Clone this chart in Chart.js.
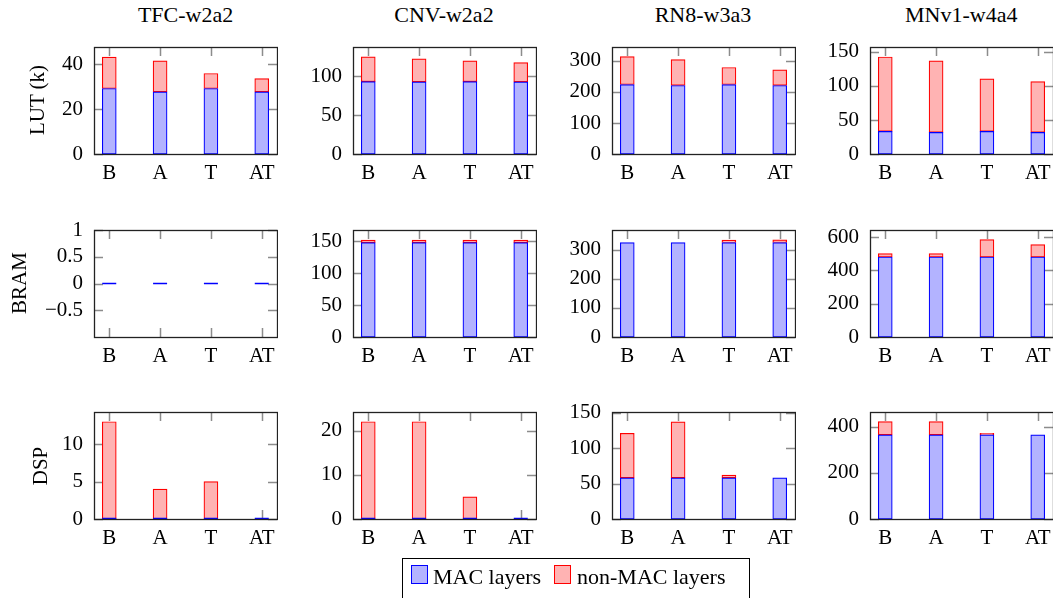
<!DOCTYPE html>
<html>
<head>
<meta charset="utf-8">
<script src="https://cdn.jsdelivr.net/npm/chart.js@4.4.0/dist/chart.umd.min.js"></script>
<style>
  body { margin: 0; background: #fff; width: 1053px; height: 598px; overflow: hidden; position: relative; font-family: "Liberation Serif", serif; color: #000; }
  canvas { position: absolute; }
  .title { position: absolute; font-size: 22px; line-height: 22px; white-space: nowrap; transform: translateX(-50%); }
  .rowlab { position: absolute; font-size: 21px; line-height: 21px; white-space: nowrap; transform: translate(-50%, -50%) rotate(-90deg); }
  .legend { position: absolute; left: 402px; top: 558px; width: 348px; height: 60px; border: 1px solid #000; box-sizing: border-box; }
  .swatch { position: absolute; width: 17px; height: 19px; box-sizing: border-box; }
  .ltext { position: absolute; font-size: 22px; line-height: 22px; white-space: nowrap; }
</style>
</head>
<body>
<script>
// data
const categories = ['B', 'A', 'T', 'AT'];
const models = ['TFC-w2a2', 'CNV-w2a2', 'RN8-w3a3', 'MNv1-w4a4'];
const resources = ['LUT (k)', 'BRAM', 'DSP'];

// one inner array per model (TFC, CNV, RN8, MNv1)
const lutMac = [[29.2, 27.7, 29.2, 27.7], [93.2, 93, 93.2, 93], [224, 221, 224, 221], [33.2, 31.8, 33.2, 31.8]];
const lutNonMac = [[14.0, 13.8, 6.7, 5.9], [31.9, 29.6, 26.8, 24.9], [90, 83.5, 55, 50], [109.4, 105, 77.2, 74.7]];
const bramMac = [[0, 0, 0, 0], [148, 148, 148, 148], [324, 324, 324, 324], [480, 480, 480, 480]];
const bramNonMac = [[0, 0, 0, 0], [4, 4, 4, 4], [0, 0, 8, 9], [20, 20, 104, 74]];
const dspMac = [[0, 0, 0, 0], [0, 0, 0, 0], [58, 58, 58, 58], [365, 365, 365, 365]];
const dspNonMac = [[13, 4, 5, 0], [22, 22, 5, 0], [63, 79, 4, 0], [57, 57, 6, 0]];

const lutRange = [[0, 47.7], [0, 137.9], [0, 345], [0, 157.3]];
const bramRange = [[-1, 1], [0, 167.7], [0, 367], [0, 642]];
const dspRange = [[0, 14.3], [0, 24.2], [0, 151], [0, 464]];

const lutTicks = [[0, 20, 40], [0, 50, 100], [0, 100, 200, 300], [0, 50, 100, 150]];
const bramTicks = [[-0.5, 0, 0.5, 1], [0, 50, 100, 150], [0, 100, 200, 300], [0, 200, 400, 600]];
const dspTicks = [[0, 5, 10], [0, 10, 20], [0, 50, 100, 150], [0, 200, 400]];

const rowMac = [lutMac, bramMac, dspMac];
const rowNonMac = [lutNonMac, bramNonMac, dspNonMac];
const rowRange = [lutRange, bramRange, dspRange];
const rowTicks = [lutTicks, bramTicks, dspTicks];

// layout
const plotLeft = [94.3, 352.7, 611.7, 870];
const plotTop = [46.7, 229.7, 412.3];
const plotW = 182.5, plotH = 107.3;
const yAxisW = 70, padTop = 14, padRight = 1, xAxisH = 40;
const tickLen = 9;

const tickFont = { family: 'Liberation Serif', size: 21 };
const fmt = v => (v < 0 ? '\u2212' + Math.abs(v) : String(v));

const framePlugin = {
  id: 'frame',
  beforeDatasetsDraw(chart) {
    const { ctx, chartArea: a, scales: { x, y } } = chart;
    ctx.save();
    ctx.strokeStyle = '#8c8c8c';
    ctx.lineWidth = 1.5;
    ctx.beginPath();
    x.ticks.forEach(t => {
      const px = Math.round(x.getPixelForValue(t.value)) + 0.5;
      ctx.moveTo(px, a.top); ctx.lineTo(px, a.top + tickLen);
      ctx.moveTo(px, a.bottom); ctx.lineTo(px, a.bottom - tickLen);
    });
    y.ticks.forEach(t => {
      const py = Math.round(y.getPixelForValue(t.value)) + 0.5;
      ctx.moveTo(a.left, py); ctx.lineTo(a.left + tickLen, py);
      ctx.moveTo(a.right, py); ctx.lineTo(a.right - tickLen, py);
    });
    ctx.stroke();
    ctx.restore();
  },
  afterDatasetsDraw(chart) {
    const { ctx, chartArea: a, scales: { x, y } } = chart;
    ctx.save();
    // zero-height MAC bars show as a thin line on the baseline
    const mac = chart.data.datasets[0].data;
    ctx.strokeStyle = '#0000ff';
    ctx.lineWidth = 1.5;
    mac.forEach(p => {
      if (p.y !== 0) return;
      const px = x.getPixelForValue(p.x), py = Math.round(y.getPixelForValue(0)) - 0.5;
      ctx.beginPath(); ctx.moveTo(px - 7, py); ctx.lineTo(px + 7, py); ctx.stroke();
    });
    ctx.strokeStyle = '#222';
    ctx.lineWidth = 1.3;
    ctx.strokeRect(Math.round(a.left) + 0.5, Math.round(a.top) + 0.5, Math.round(a.right - a.left), Math.round(a.bottom - a.top));
    ctx.restore();
  }
};

function makeChart(row, col) {
  const canvas = document.createElement('canvas');
  const w = Math.round(yAxisW + plotW + padRight), h = Math.round(padTop + plotH + xAxisH);
  canvas.width = w; canvas.height = h;
  canvas.style.width = w + 'px'; canvas.style.height = h + 'px';
  canvas.style.left = (plotLeft[col] - yAxisW) + 'px';
  canvas.style.top = (plotTop[row] - padTop) + 'px';
  document.body.appendChild(canvas);

  const [ymin, ymax] = rowRange[row][col];
  const yticks = rowTicks[row][col];

  new Chart(canvas, {
    type: 'bar',
    data: {
      datasets: [{
        label: 'MAC layers',
        data: rowMac[row][col].map((v, i) => ({ x: i, y: v })),
        backgroundColor: 'rgb(179,179,255)',
        borderColor: '#0000ff',
        borderWidth: 1.2,
        borderSkipped: false,
        barThickness: 14
      }, {
        label: 'non-MAC layers',
        data: rowNonMac[row][col].map((v, i) => ({ x: i, y: v })),
        backgroundColor: 'rgb(255,179,179)',
        borderColor: '#ff0000',
        borderWidth: 1.2,
        borderSkipped: false,
        barThickness: 14
      }]
    },
    options: {
      responsive: false,
      animation: false,
      devicePixelRatio: 1,
      layout: { padding: { top: padTop, right: padRight, left: 0, bottom: 0 } },
      plugins: { legend: { display: false }, tooltip: { enabled: false } },
      scales: {
        x: {
          type: 'linear', min: -0.3, max: 3.3, stacked: true, offset: false,
          grid: { display: false, drawTicks: false },
          border: { display: false },
          afterBuildTicks: s => { s.ticks = categories.map((c, i) => ({ value: i })); },
          afterFit: s => { s.height = xAxisH; s.paddingLeft = 0; s.paddingRight = 0; },
          ticks: { callback: v => categories[v], font: tickFont, color: '#000', padding: 7, maxRotation: 0, autoSkip: false }
        },
        y: {
          stacked: true, min: ymin, max: ymax,
          grid: { display: false, drawTicks: false },
          border: { display: false },
          afterBuildTicks: s => { s.ticks = yticks.map(v => ({ value: v })); },
          afterFit: s => { s.width = yAxisW; s.paddingTop = 0; s.paddingBottom = 0; },
          ticks: { callback: v => fmt(v), font: tickFont, color: '#000', padding: 11, autoSkip: false }
        }
      }
    },
    plugins: [framePlugin]
  });
}

for (let r = 0; r < 3; r++) for (let c = 0; c < 4; c++) makeChart(r, c);

// titles
models.forEach((m, c) => {
  const d = document.createElement('div');
  d.className = 'title';
  d.textContent = m;
  d.style.left = (plotLeft[c] + plotW / 2) + 'px';
  d.style.top = '4px';
  document.body.appendChild(d);
});

// row labels
const rowLabelX = [37, 19, 40];
resources.forEach((t, r) => {
  const d = document.createElement('div');
  d.className = 'rowlab';
  d.textContent = t;
  d.style.left = rowLabelX[r] + 'px';
  d.style.top = (plotTop[r] + plotH / 2) + 'px';
  document.body.appendChild(d);
});

// legend
const legend = document.createElement('div');
legend.className = 'legend';
legend.innerHTML =
  '<div class="swatch" style="left:8px;top:6px;background:rgb(179,179,255);border:1.3px solid #00f"></div>' +
  '<div class="ltext" style="left:30px;top:7px">MAC layers</div>' +
  '<div class="swatch" style="left:151px;top:6px;background:rgb(255,179,179);border:1.3px solid #f00"></div>' +
  '<div class="ltext" style="left:174px;top:7px">non-MAC layers</div>';
document.body.appendChild(legend);
</script>
</body>
</html>
